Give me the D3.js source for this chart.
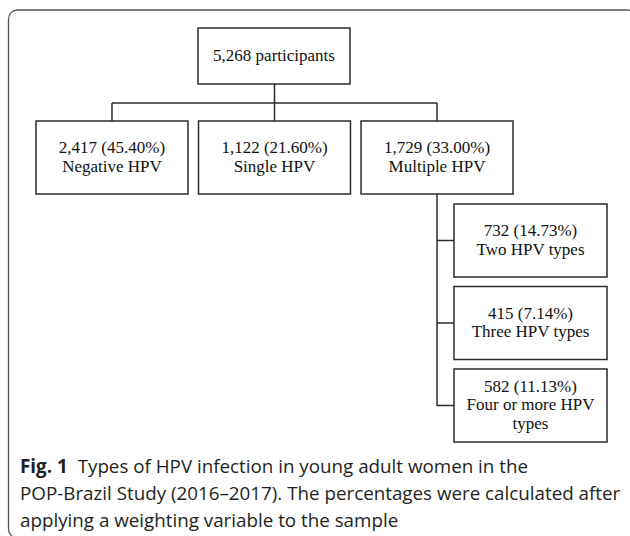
<!DOCTYPE html>
<html>
<head>
<meta charset="utf-8">
<script src="https://cdn.jsdelivr.net/npm/d3@7"></script>
<style>
  html, body { margin: 0; padding: 0; background: #fff; }
</style>
</head>
<body>
<div id="chart"></div>
<script>
// flowchart data
const rootLabel = "5,268 participants";
const groups = ["Negative HPV", "Single HPV", "Multiple HPV"];
const groupCounts = ["2,417", "1,122", "1,729"];
const groupPcts = [45.40, 21.60, 33.00];
const subGroups = ["Two HPV types", "Three HPV types", "Four or more HPV types"];
const subCounts = ["732", "415", "582"];
const subPcts = [14.73, 7.14, 11.13];
const captionLines = [
    "Types of HPV infection in young adult women in the",
    "POP-Brazil Study (2016\u20132017). The percentages were calculated after",
    "applying a weighting variable to the sample"
];

const width = 630;
const height = 536;
const lineColor = "#2b2b2b";
const serif = "'Liberation Serif', 'Times New Roman', serif";
const fontSize = 17;
const lineHeight = 18.5;

const svg = d3.select("#chart").append("svg")
    .attr("width", width)
    .attr("height", height);

// outer frame (right and bottom edges run off the page)
svg.append("rect")
    .attr("x", 8.5)
    .attr("y", 10)
    .attr("width", 628)
    .attr("height", 528)
    .attr("rx", 9)
    .attr("fill", "none")
    .attr("stroke", "#555")
    .attr("stroke-width", 1.3);

const x = d3.scaleBand()
    .domain(groups)
    .range([36, 513])
    .paddingInner(0.065);

const ySub = d3.scaleBand()
    .domain(subGroups)
    .range([204, 442])
    .paddingInner(0.115);

const rowTop = 121;
const rowH = 73;
const root = { x0: 198, x1: 350, y0: 28, y1: 84 };
const subX0 = 454;
const subW = 153;
const busY = 103;
const cx = (g) => x(g) + x.bandwidth() / 2;

function box(x0, y0, w, h, lines) {
    const g = svg.append("g");
    g.append("rect")
        .attr("x", x0)
        .attr("y", y0)
        .attr("width", w)
        .attr("height", h)
        .attr("fill", "#fff")
        .attr("stroke", lineColor)
        .attr("stroke-width", 1.5);
    const t = g.append("text")
        .attr("text-anchor", "middle")
        .attr("font-family", serif)
        .attr("font-size", fontSize)
        .attr("fill", "#111");
    // wrap long lines
    let out = [];
    lines.forEach(l => {
        const words = l.split(" ");
        let cur = [];
        const probe = t.append("tspan");
        words.forEach(wd => {
            cur.push(wd);
            probe.text(cur.join(" "));
            if (probe.node().getComputedTextLength() > w - 14 && cur.length > 1) {
                cur.pop();
                out.push(cur.join(" "));
                cur = [wd];
            }
        });
        out.push(cur.join(" "));
        probe.remove();
    });
    const mid = y0 + h / 2;
    out.forEach((l, i) => {
        t.append("tspan")
            .attr("x", x0 + w / 2)
            .attr("y", mid - lineHeight * (out.length - 1) / 2 + i * lineHeight + 5)
            .text(l);
    });
}

const fmt = d3.format(".2f");

// connectors
const links = [];
links.push([[cx(groups[1]), root.y1], [cx(groups[1]), busY]]);
links.push([[cx(groups[0]), busY], [cx(groups[2]), busY]]);
groups.forEach(g => links.push([[cx(g), busY], [cx(g), rowTop]]));
const trunkX = cx(groups[2]);
const lastMid = ySub(subGroups[subGroups.length - 1]) + ySub.bandwidth() / 2;
links.push([[trunkX, rowTop + rowH], [trunkX, lastMid], [subX0, lastMid]]);
subGroups.slice(0, -1).forEach(s => {
    const m = ySub(s) + ySub.bandwidth() / 2;
    links.push([[trunkX, m], [subX0, m]]);
});

svg.append("g").selectAll("path")
    .data(links)
    .join("path")
    .attr("d", d3.line())
    .attr("fill", "none")
    .attr("stroke", lineColor)
    .attr("stroke-width", 1.5);

box(root.x0, root.y0, root.x1 - root.x0, root.y1 - root.y0, [rootLabel]);

groups.forEach((g, i) => {
    box(x(g), rowTop, x.bandwidth(), rowH, [`${groupCounts[i]} (${fmt(groupPcts[i])}%)`, g]);
});

subGroups.forEach((s, i) => {
    box(subX0, ySub(s), subW, ySub.bandwidth(), [`${subCounts[i]} (${fmt(subPcts[i])}%)`, s]);
});

// caption
const cap = svg.append("g")
    .attr("font-family", "'Open Sans', 'Noto Sans', sans-serif")
    .attr("fill", "#231f20");

const capSize = 18.8;
const capY = [473, 500, 527];
captionLines.forEach((l, i) => {
    const t = cap.append("text")
        .attr("x", 20)
        .attr("y", capY[i])
        .attr("font-size", capSize);
    if (i === 0) {
        t.append("tspan").attr("font-weight", "bold").text("Fig. 1");
        t.append("tspan").attr("dx", 10).text(l);
    } else {
        t.text(l);
    }
});
</script>
</body>
</html>
